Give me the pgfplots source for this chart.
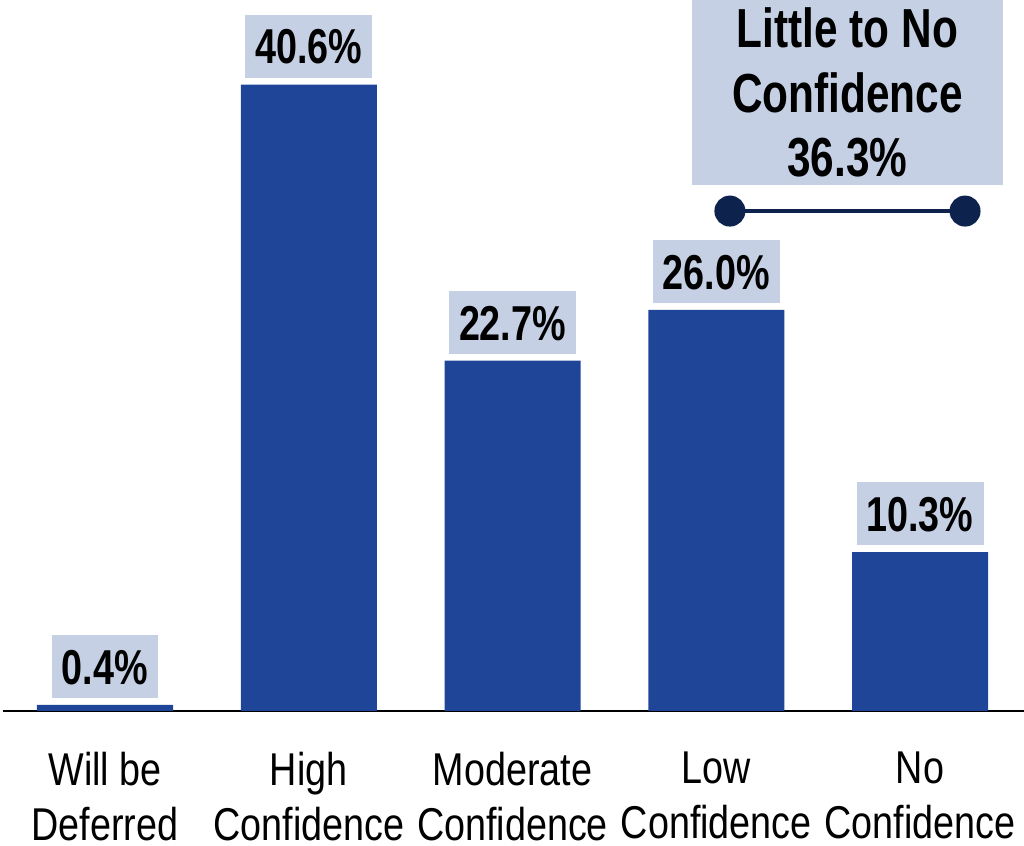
\documentclass[border=0pt]{standalone}
\usepackage{fontspec}
\usepackage{pgfplots}
\pgfplotsset{compat=1.18}
\setmainfont{Liberation Sans}
\newfontfamily\catfam[FakeStretch=0.82]{Liberation Sans}
\newfontfamily\valfam[FakeStretch=0.77]{Liberation Sans}
\definecolor{barblue}{RGB}{31,69,153}
\definecolor{lblfill}{RGB}{197,208,228}
\definecolor{navy}{RGB}{13,34,77}
\begin{document}
\begin{tikzpicture}
\begin{axis}[
  at={(3pt,134pt)}, anchor=south west,
  scale only axis, width=1021pt, height=711pt,
  xmin=-0.5006, xmax=4.5104, ymin=0, ymax=46.08,
  axis x line*=bottom, axis y line=none,
  x axis line style={-, black, line width=1.5pt},
  xtick={0,1,2,3,4},
  xticklabels={Will be\\Deferred, High\\Confidence, Moderate\\Confidence, Low\\Confidence, No\\Confidence},
  xticklabel style={align=center, font=\catfam\fontsize{46}{55}\selectfont, anchor=north, inner sep=0pt, yshift=-41pt},
  major tick length=0pt,
  ytick=\empty,
  clip=false,
]
\addplot[ybar, bar width=136pt, fill=barblue, draw=none,
  nodes near coords={\pgfmathprintnumber[fixed,fixed zerofill,precision=1,assume math mode=true]{\pgfplotspointmeta}\%},
  every node near coord/.append style={anchor=south, fill=lblfill, font=\valfam\bfseries\fontsize{49}{58}\selectfont, text=black, inner xsep=10pt, inner ysep=14pt, text height=35pt, text depth=0pt, yshift=6.5pt}
] coordinates {(0,0.4) (1,40.6) (2,22.7) (3,26.0) (4,10.3)};
\addplot[navy, line width=4pt, mark=*, mark size=13.5pt, mark options={fill=navy, draw=none}] coordinates {(3.067,32.40) (4.221,32.40)};
\node[fill=lblfill, minimum width=311pt, minimum height=185pt, align=center, font=\valfam\bfseries\fontsize{55}{64.5}\selectfont, inner sep=0pt] at (axis cs:3.644,40.08) {Little to No\\Confidence\\36.3\%};
\end{axis}
\pgfresetboundingbox
\path[use as bounding box] (0pt,0pt) rectangle (1024pt,845pt);
\end{tikzpicture}
\end{document}
